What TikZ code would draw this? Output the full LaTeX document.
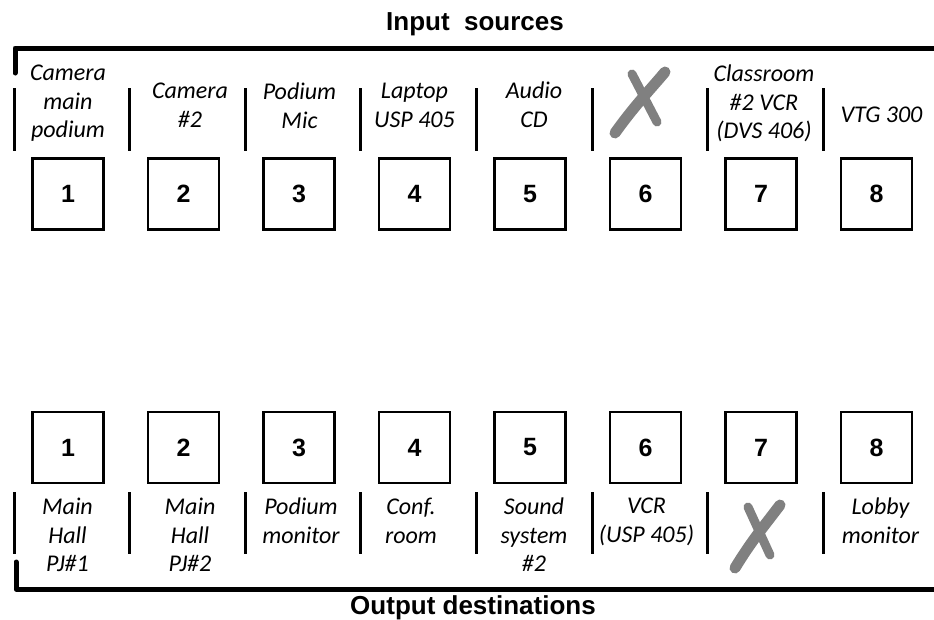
\documentclass[tikz,border=0pt]{standalone}
\usepackage{fontspec}
\newfontfamily\headfont{Liberation Sans}
\newfontfamily\handfont{Carlito}
\definecolor{xgray}{RGB}{128,128,128}
\begin{document}
\begin{tikzpicture}[x=1pt,y=-1pt,
  title/.style={font=\headfont\bfseries\fontsize{26}{30}\selectfont, inner sep=0, anchor=base},
  numbox/.style={draw, line width=2.5pt, minimum size=71pt, inner sep=0, font=\headfont\bfseries\fontsize{25}{30}\selectfont},
  lbl/.style={font=\handfont\itshape\fontsize{24}{28.5}\selectfont, align=center, inner sep=0, anchor=north},
  sep/.style={line width=3pt},
  bar/.style={line width=5pt, line cap=round, line join=round},
  cross/.style={draw=xgray, line cap=round, line width=11pt}]
\useasboundingbox (0,0) rectangle (934,619);
% titles
\node[title] (tin) at (475,30) {Input\ \ sources};
\node[title] (tout) at (473,614) {Output destinations};
% brackets
\draw[bar] (15,73) -- (15,48) -- (945,48);
\draw[bar] (16,562) -- (16,589) -- (945,589);
% separators
\foreach \i in {0,...,7} {
  \draw[sep] ({14+115.6*\i},88) -- ++(0,63);
  \draw[sep] ({14+115.6*\i},492) -- ++(0,62);
}
% boxes
\foreach \i in {1,...,8} {
  \node[numbox] (in\i) at ({68+115.5*(\i-1)},194) {\i};
  \node[numbox] (out\i) at ({68+115.5*(\i-1)},447.5) {\i};
}
% input labels
\node[lbl] (l1) at (68,65) {Camera\\main\\podium};
\node[lbl] (l2) at (190,83) {Camera\\\#2};
\node[lbl] (l3) at (299.5,83) {Podium\\Mic};
\node[lbl] (l4) at (414.5,83) {Laptop\\USP 405};
\node[lbl] (l5) at (534,82) {Audio\\CD};
\node[lbl] (l7) at (764,65) {Classroom\\\#2 VCR\\(DVS 406)};
\node[lbl] (l8) at (881.5,107) {VTG 300};
% output labels
\node[lbl] (o1) at (67.5,498) {Main\\Hall\\PJ\#1};
\node[lbl] (o2) at (190,498) {Main\\Hall\\PJ\#2};
\node[lbl] (o3) at (301,498) {Podium\\monitor};
\node[lbl] (o4) at (411,498) {Conf.\\room};
\node[lbl] (o5) at (534,498) {Sound\\system\\\#2};
\node[lbl] (o6) at (646.5,498) {VCR\\(USP 405)};
\node[lbl] (o8) at (880.5,498) {Lobby\\monitor};
% crosses
\draw[cross] (615,133) .. controls (635,105) and (650,90) .. (665,72);
\draw[cross, line width=9pt] (632,74) -- (657,122);
\draw[cross] (735,568) .. controls (752,540) and (765,525) .. (780,505);
\draw[cross, line width=9pt] (748,507) -- (770,555);
\end{tikzpicture}
\end{document}
